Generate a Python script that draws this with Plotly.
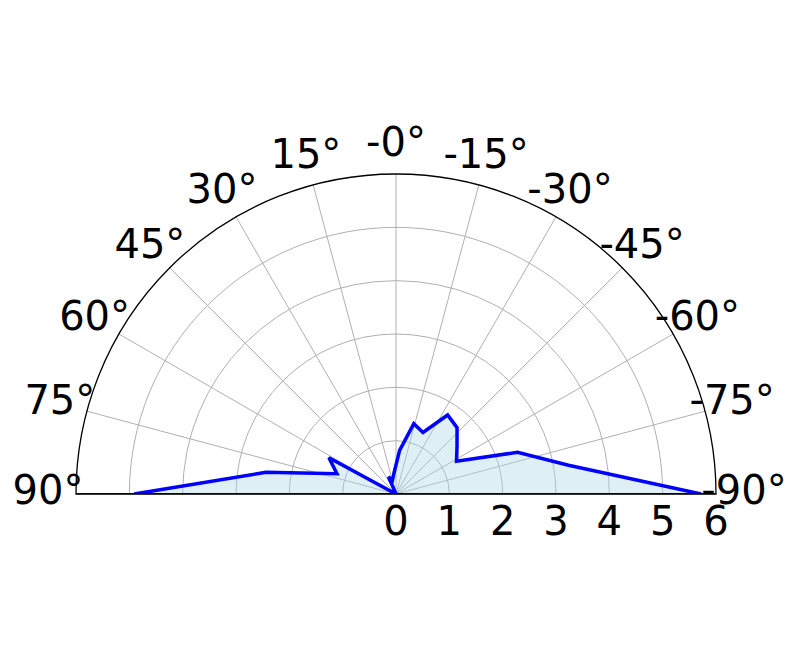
import numpy as np
import plotly.graph_objects as go

# angles (deg), 0 at top, positive to the left
THETA = [90.0, 80.53, 71.05, 61.58, 52.11, 42.63, 33.16, 23.68, 14.21, 4.74,
         -4.74, -14.21, -23.68, -33.16, -42.63, -52.11, -61.58, -71.05, -80.53, -90.0]
RADIUS = [4.91, 2.47, 1.17, 1.43, 0.0, 0.0, 0.0, 0.35, 0.27, 0.41,
          0.82, 1.36, 1.26, 1.77, 1.69, 1.45, 1.29, 2.41, 3.28, 5.72]

ANGLE_TICKS = [90, 75, 60, 45, 30, 15, 0, -15, -30, -45, -60, -75, -90]
ANGLE_LABELS = ["90°", "75°", "60°", "45°", "30°", "15°", "-0°",
                "-15°", "-30°", "-45°", "-60°", "-75°", "-90°"]
RADIAL_TICKS = [0, 1, 2, 3, 4, 5, 6]
R_MAX = 6
LABEL_R = 6.525  # angle labels are centred just outside the rim

FONT = dict(family="DejaVu Sans", size=40, color="black")

# the label subplot is a bit bigger than the data subplot, same centre
pad_x = (1 - R_MAX / LABEL_R) / 2
data_domain = dict(x=[pad_x, 1 - pad_x], y=[0, R_MAX / LABEL_R])

fig = go.Figure()

# shaded area under the curve
fig.add_trace(go.Scatterpolar(
    r=RADIUS, theta=THETA, mode="lines", fill="toself",
    fillcolor="rgba(173,216,230,0.4)", line=dict(width=0),
    hoverinfo="skip", showlegend=False,
))

# baseline across the half disc
fig.add_trace(go.Scatterpolar(
    r=[R_MAX, 0, R_MAX], theta=[90, 0, -90], mode="lines",
    line=dict(color="#262626", width=2), hoverinfo="skip", showlegend=False,
))

fig.add_trace(go.Scatterpolar(
    r=RADIUS, theta=THETA, mode="lines",
    line=dict(color="blue", width=3.5), showlegend=False,
))

# angular tick labels, centred like matplotlib does
fig.add_trace(go.Scatterpolar(
    r=[LABEL_R] * len(ANGLE_TICKS), theta=ANGLE_TICKS, mode="text",
    text=ANGLE_LABELS, textposition="middle center", textfont=FONT,
    cliponaxis=False, hoverinfo="skip", showlegend=False, subplot="polar2",
))

hidden_angular = dict(rotation=90, direction="counterclockwise", visible=False,
                      showgrid=False, showline=False, showticklabels=False, ticks="")

fig.update_layout(
    width=797, height=668,
    margin=dict(l=40, r=61, t=138, b=182),
    paper_bgcolor="white",
    font=FONT,
    polar=dict(
        sector=[0, 180],
        bgcolor="white",
        domain=data_domain,
        angularaxis=dict(
            rotation=90, direction="counterclockwise",
            tickmode="array", tickvals=ANGLE_TICKS, showticklabels=False,
            showline=True, linecolor="black", linewidth=1.3,
            showgrid=True, gridcolor="#b0b0b0", gridwidth=1,
            ticks="",
        ),
        radialaxis=dict(
            range=[0, R_MAX], angle=0, side="clockwise", tickangle=0,
            tickmode="array", tickvals=RADIAL_TICKS,
            showline=False, showgrid=True, gridcolor="#b0b0b0", gridwidth=1,
            ticks="", tickfont=FONT,
        ),
    ),
    polar2=dict(
        sector=[0, 180],
        bgcolor="rgba(0,0,0,0)",
        domain=dict(x=[0, 1], y=[0, 1]),
        angularaxis=hidden_angular,
        radialaxis=dict(range=[0, LABEL_R], visible=False, showgrid=False,
                        showline=False, showticklabels=False, ticks=""),
    ),
)

fig.write_html("out.html")
